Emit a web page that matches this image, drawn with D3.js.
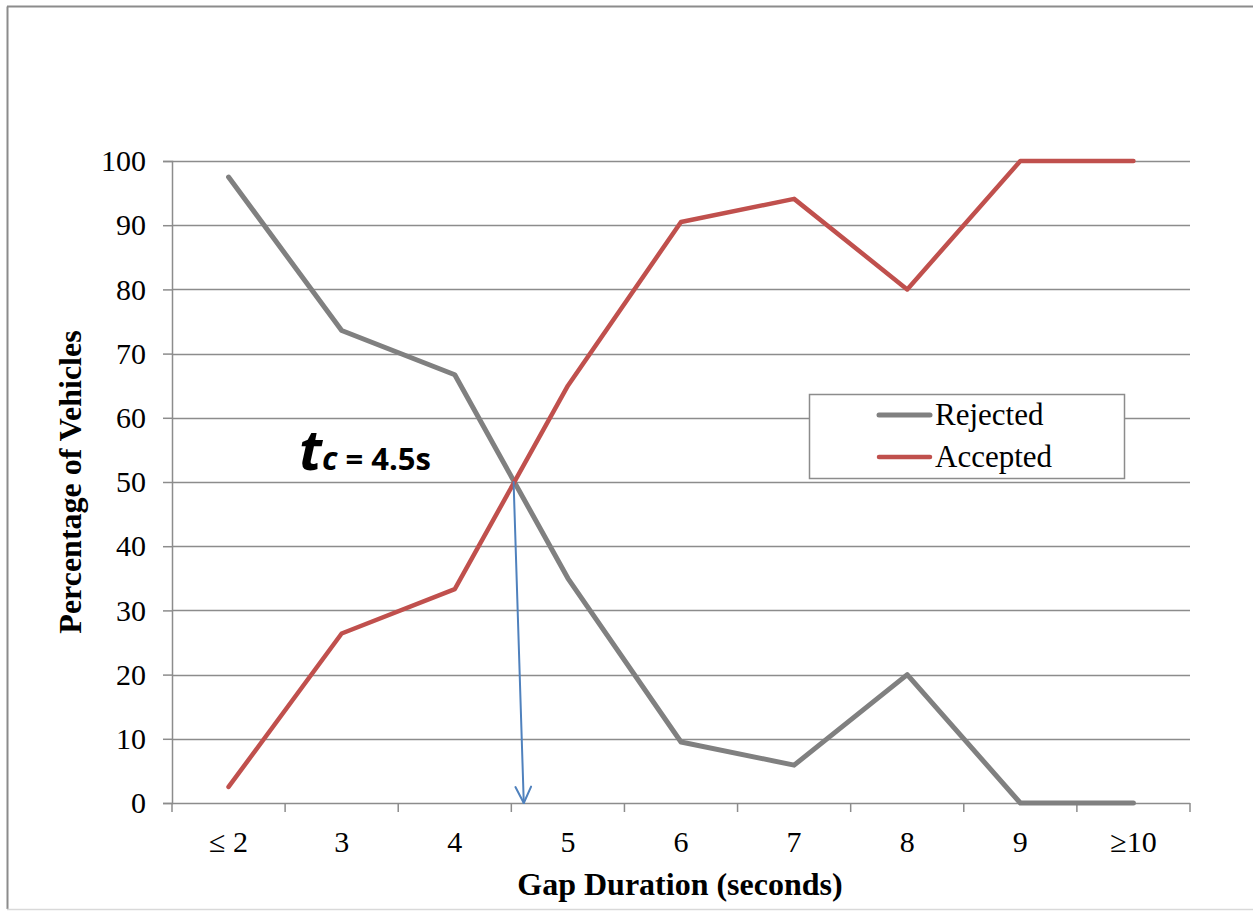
<!DOCTYPE html>
<html>
<head>
<meta charset="utf-8">
<script src="https://cdn.jsdelivr.net/npm/d3@7/dist/d3.min.js"></script>
<style>
  html, body { margin: 0; padding: 0; background: #fff; }
  svg { display: block; }
</style>
</head>
<body>
<svg id="chart" width="1253" height="911"></svg>
<script>
// Gap acceptance data
const categories = ["\u2264 2", "3", "4", "5", "6", "7", "8", "9", "\u226510"];
const rejected = [97.5, 73.6, 66.7, 35.0, 9.5, 5.9, 20.0, 0, 0];
const accepted = [2.5, 26.4, 33.3, 65.0, 90.5, 94.1, 80.0, 100, 100];
const yTicks = [0, 10, 20, 30, 40, 50, 60, 70, 80, 90, 100];
const seriesNames = ["Rejected", "Accepted"];
// critical gap arrow, in category-index units and percent
const arrowFrom = [2.52, 50];
const arrowTo = [2.61, 0];

const svg = d3.select("#chart");
const W = 1253, H = 911;
const m = { left: 172, right: 63, top: 161, bottom: 108 };
const pw = W - m.left - m.right, ph = H - m.top - m.bottom;
const serif = "Liberation Serif, Times New Roman, serif";

// outer frame
svg.append("line").attr("x1", 7.5).attr("x2", 7.5).attr("y1", 6.5).attr("y2", 909)
  .attr("stroke", "#8c8c8c").attr("stroke-width", 2);
svg.append("line").attr("x1", 7).attr("x2", W).attr("y1", 6.5).attr("y2", 6.5)
  .attr("stroke", "#8c8c8c").attr("stroke-width", 2);
svg.append("line").attr("x1", 7).attr("x2", W).attr("y1", 909.5).attr("y2", 909.5)
  .attr("stroke", "#d9d9d9").attr("stroke-width", 1.5);

const g = svg.append("g").attr("transform", `translate(${m.left},${m.top})`);

const xBand = d3.scaleBand().domain(categories).range([0, pw]);
const xIdx = d3.scaleLinear().domain([0, categories.length - 1])
  .range([xBand.bandwidth() / 2, pw - xBand.bandwidth() / 2]);
const y = d3.scaleLinear().domain([0, 100]).range([ph, 0]);

// horizontal gridlines
g.append("g").selectAll("line").data(yTicks.filter(t => t > 0)).join("line")
  .attr("x1", 0).attr("x2", pw)
  .attr("y1", d => Math.round(y(d)) + 0.5).attr("y2", d => Math.round(y(d)) + 0.5)
  .attr("stroke", "#8c8c8c").attr("stroke-width", 1.5);

// y axis
const yAxis = g.append("g").call(d3.axisLeft(y).tickValues(yTicks).tickSize(9).tickPadding(17));
yAxis.select(".domain").attr("stroke", "#8c8c8c").attr("stroke-width", 1.5);
yAxis.selectAll(".tick line").attr("stroke", "#8c8c8c").attr("stroke-width", 1.5);
yAxis.selectAll("text").attr("font-family", serif)
  .attr("font-size", 30).attr("fill", "#000");

// x axis, ticks at category boundaries
const xAxisG = g.append("g").attr("transform", `translate(0,${ph})`);
xAxisG.append("line").attr("x1", 0).attr("x2", pw).attr("y1", 0.5).attr("y2", 0.5)
  .attr("stroke", "#8c8c8c").attr("stroke-width", 1.5);
const bounds = categories.map(c => xBand(c)).concat([pw]);
xAxisG.selectAll("line.tk").data(bounds).join("line").attr("class", "tk")
  .attr("x1", d => d).attr("x2", d => d).attr("y1", 0).attr("y2", 9)
  .attr("stroke", "#8c8c8c").attr("stroke-width", 1.5);
xAxisG.selectAll("text").data(categories).join("text")
  .attr("x", d => xBand(d) + xBand.bandwidth() / 2).attr("y", 49)
  .attr("text-anchor", "middle")
  .attr("font-family", serif)
  .attr("font-size", 30).attr("fill", "#000").text(d => d);

// axis titles
svg.append("text").attr("x", m.left + pw / 2 - 1).attr("y", 895)
  .attr("text-anchor", "middle")
  .attr("font-family", serif)
  .attr("font-size", 32).attr("font-weight", "bold").text("Gap Duration (seconds)");
svg.append("text").attr("transform", `translate(81,${m.top + ph / 2}) rotate(-90)`)
  .attr("text-anchor", "middle")
  .attr("font-family", serif)
  .attr("font-size", 32).attr("font-weight", "bold").text("Percentage of Vehicles");

// series lines
const line = d3.line().x((d, i) => xIdx(i)).y(d => y(d));
const colors = ["#808080", "#c0504d"];
const widths = [5, 4.5];
[rejected, accepted].forEach((s, k) => {
  g.append("path").datum(s).attr("d", line).attr("fill", "none")
    .attr("stroke", colors[k]).attr("stroke-width", widths[k])
    .attr("stroke-linejoin", "round").attr("stroke-linecap", "round");
});

// critical gap arrow
const ax1 = xIdx(arrowFrom[0]), ay1 = y(arrowFrom[1]);
const ax2 = xIdx(arrowTo[0]), ay2 = y(arrowTo[1]);
const arrow = g.append("g").attr("stroke", "#4f81bd").attr("stroke-width", 2)
  .attr("fill", "none").attr("stroke-linecap", "round");
arrow.append("line").attr("x1", ax1).attr("y1", ay1).attr("x2", ax2).attr("y2", ay2);
const ang = Math.atan2(ay2 - ay1, ax2 - ax1);
const hl = 18, spread = 0.45;
[-spread, spread].forEach(a => {
  arrow.append("line").attr("x1", ax2).attr("y1", ay2)
    .attr("x2", ax2 - hl * Math.cos(ang + a)).attr("y2", ay2 - hl * Math.sin(ang + a));
});

// tc annotation
const tc = svg.append("text").attr("x", 299).attr("y", 470)
  .attr("font-family", "Open Sans, Lato, sans-serif").attr("font-weight", "bold").attr("fill", "#000");
tc.append("tspan").attr("font-size", 56).attr("font-style", "italic").text("t");
tc.append("tspan").attr("font-size", 32).attr("font-style", "italic").text("c");
tc.append("tspan").attr("font-size", 31).text(" = 4.5s");

// legend
const lg = svg.append("g").attr("transform", "translate(809,394)");
lg.append("rect").attr("x", 0.5).attr("y", 0.5).attr("width", 315).attr("height", 84)
  .attr("fill", "#fff").attr("stroke", "#8c8c8c").attr("stroke-width", 1.5);
seriesNames.forEach((n, k) => {
  const ly = 21 + k * 42;
  lg.append("line").attr("x1", 70).attr("x2", 121).attr("y1", ly).attr("y2", ly)
    .attr("stroke", colors[k]).attr("stroke-width", widths[k]).attr("stroke-linecap", "round");
  lg.append("text").attr("x", 126).attr("y", ly + 10)
    .attr("font-family", serif)
    .attr("font-size", 31).attr("fill", "#000").text(n);
});
</script>
</body>
</html>
